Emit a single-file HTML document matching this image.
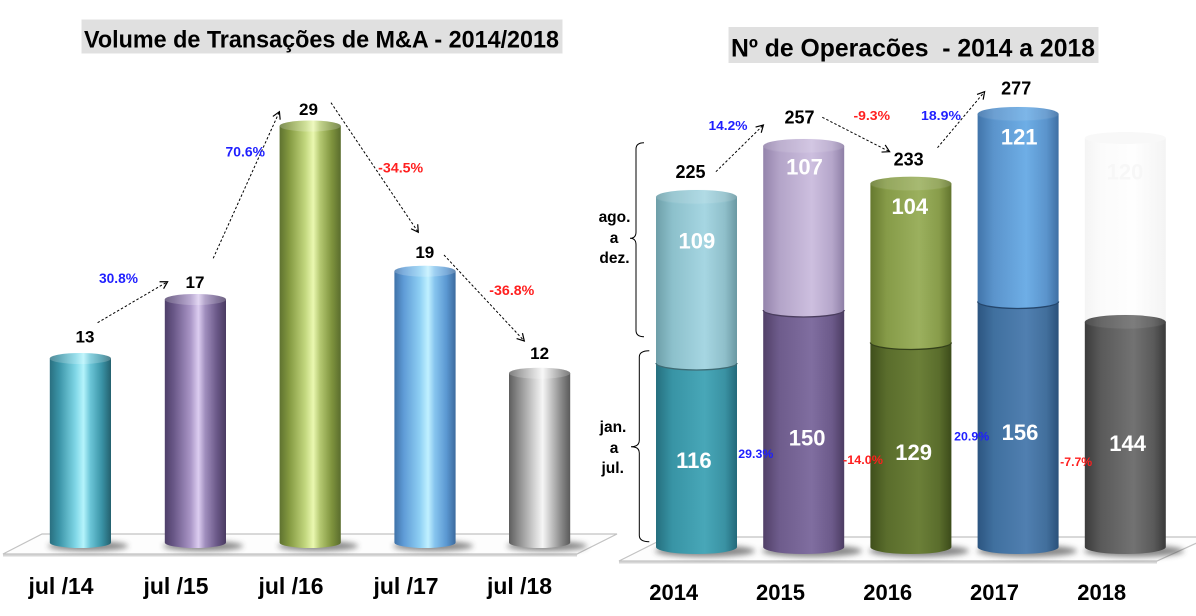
<!DOCTYPE html>
<html><head><meta charset="utf-8"><style>
html,body{margin:0;padding:0;background:#fff;}
svg{display:block;}
text{font-family:"Liberation Sans",sans-serif;font-weight:bold;}
</style></head><body>
<svg width="1196" height="616" viewBox="0 0 1196 616" xmlns="http://www.w3.org/2000/svg">
<defs>
<filter id="blur" x="-50%" y="-100%" width="200%" height="300%"><feGaussianBlur stdDeviation="3"/></filter>
<marker id="ah" markerWidth="10" markerHeight="10" refX="8" refY="5" orient="auto" markerUnits="userSpaceOnUse"><path d="M1,1 L8,5 L1,9" fill="none" stroke="#000" stroke-width="1.2"/></marker>
<linearGradient id="l1"><stop offset="0" stop-color="#2a7080"/><stop offset=".15" stop-color="#3a93a6"/><stop offset=".42" stop-color="#7fd6e6"/><stop offset=".55" stop-color="#b4f4fc"/><stop offset=".66" stop-color="#6cc6d8"/><stop offset=".85" stop-color="#3a93a6"/><stop offset="1" stop-color="#24606e"/></linearGradient>
<linearGradient id="l2"><stop offset="0" stop-color="#4e3f69"/><stop offset=".15" stop-color="#6a5888"/><stop offset=".42" stop-color="#a995c6"/><stop offset=".55" stop-color="#dccdf0"/><stop offset=".66" stop-color="#a08ebd"/><stop offset=".85" stop-color="#6a5888"/><stop offset="1" stop-color="#4a3b62"/></linearGradient>
<linearGradient id="l3"><stop offset="0" stop-color="#5e7230"/><stop offset=".15" stop-color="#82973f"/><stop offset=".42" stop-color="#c2d77e"/><stop offset=".55" stop-color="#eaf8b0"/><stop offset=".66" stop-color="#b5c972"/><stop offset=".85" stop-color="#7f943e"/><stop offset="1" stop-color="#5a6c2d"/></linearGradient>
<linearGradient id="l4"><stop offset="0" stop-color="#3f72a8"/><stop offset=".15" stop-color="#5e9bd6"/><stop offset=".42" stop-color="#8fd0f4"/><stop offset=".55" stop-color="#c0f0ff"/><stop offset=".66" stop-color="#86c4ee"/><stop offset=".85" stop-color="#5b98d2"/><stop offset="1" stop-color="#3c6b9e"/></linearGradient>
<linearGradient id="l5"><stop offset="0" stop-color="#5e5e5e"/><stop offset=".15" stop-color="#8a8a8a"/><stop offset=".42" stop-color="#d4d4d4"/><stop offset=".55" stop-color="#f6f6f6"/><stop offset=".66" stop-color="#cfcfcf"/><stop offset=".85" stop-color="#8a8a8a"/><stop offset="1" stop-color="#5a5a5a"/></linearGradient>
<linearGradient id="a1"><stop offset="0" stop-color="#6d9ea8"/><stop offset=".2" stop-color="#8cc0cb"/><stop offset=".6" stop-color="#a6d6e2"/><stop offset=".85" stop-color="#8fbfca"/><stop offset="1" stop-color="#6a98a2"/></linearGradient>
<linearGradient id="b1"><stop offset="0" stop-color="#256f7e"/><stop offset=".2" stop-color="#3894a5"/><stop offset=".6" stop-color="#48a7b8"/><stop offset=".85" stop-color="#3a92a3"/><stop offset="1" stop-color="#23697a"/></linearGradient>
<linearGradient id="a2"><stop offset="0" stop-color="#9484ab"/><stop offset=".2" stop-color="#b3a4c8"/><stop offset=".6" stop-color="#cdbfdf"/><stop offset=".85" stop-color="#b5a6ca"/><stop offset="1" stop-color="#8e7fa6"/></linearGradient>
<linearGradient id="b2"><stop offset="0" stop-color="#514068"/><stop offset=".2" stop-color="#6e5c8c"/><stop offset=".6" stop-color="#806ea0"/><stop offset=".85" stop-color="#6c5a8a"/><stop offset="1" stop-color="#4c3c62"/></linearGradient>
<linearGradient id="a3"><stop offset="0" stop-color="#66792f"/><stop offset=".2" stop-color="#869b48"/><stop offset=".6" stop-color="#9bb05e"/><stop offset=".85" stop-color="#889c4a"/><stop offset="1" stop-color="#62742e"/></linearGradient>
<linearGradient id="b3"><stop offset="0" stop-color="#3f4f1b"/><stop offset=".2" stop-color="#5a6d2c"/><stop offset=".6" stop-color="#6b7f38"/><stop offset=".85" stop-color="#5a6d2c"/><stop offset="1" stop-color="#3c4b1a"/></linearGradient>
<linearGradient id="a4"><stop offset="0" stop-color="#4174aa"/><stop offset=".2" stop-color="#5b94cc"/><stop offset=".6" stop-color="#6eaee6"/><stop offset=".85" stop-color="#5b94cc"/><stop offset="1" stop-color="#3e6fa3"/></linearGradient>
<linearGradient id="b4"><stop offset="0" stop-color="#2c5580"/><stop offset=".2" stop-color="#40709f"/><stop offset=".6" stop-color="#507fb0"/><stop offset=".85" stop-color="#426f9c"/><stop offset="1" stop-color="#2a507a"/></linearGradient>
<linearGradient id="b5"><stop offset="0" stop-color="#3c3c3c"/><stop offset=".2" stop-color="#5a5a5a"/><stop offset=".6" stop-color="#727272"/><stop offset=".85" stop-color="#5a5a5a"/><stop offset="1" stop-color="#3a3a3a"/></linearGradient>
<linearGradient id="gh"><stop offset="0" stop-color="#f4f4f4"/><stop offset=".2" stop-color="#fbfbfb"/><stop offset=".6" stop-color="#fefefe"/><stop offset="1" stop-color="#f4f4f4"/></linearGradient>
</defs>

<!-- ================= LEFT CHART ================= -->
<rect x="81.5" y="19.5" width="481" height="34" fill="#e0e0e0"/>
<text x="84" y="47.5" font-size="24.5" textLength="475" lengthAdjust="spacingAndGlyphs" fill="#000">Volume de Transações de M&amp;A - 2014/2018</text>

<polygon points="3,554 42,534 617,534 577,554" fill="#fdfdfd" stroke="#c2c2c2" stroke-width="1.2"/>
<line x1="3" y1="555.5" x2="577" y2="555.5" stroke="#d6d6d6" stroke-width="2"/>

<g filter="url(#blur)" fill="#3a3a3a" opacity="0.6">
<ellipse cx="88" cy="546" rx="40" ry="5"/>
<ellipse cx="203" cy="546" rx="40" ry="5"/>
<ellipse cx="318" cy="546" rx="40" ry="5"/>
<ellipse cx="433" cy="546" rx="40" ry="5"/>
<ellipse cx="547" cy="546" rx="40" ry="5"/>
</g>

<g>
<path d="M49.8,358.5 V542.5 A30.6,5.5 0 0 0 111,542.5 V358.5 Z" fill="url(#l1)"/>
<ellipse cx="80.4" cy="358.5" rx="30.6" ry="5.5" fill="url(#l1)"/>
<ellipse cx="80.4" cy="358.5" rx="30.6" ry="5.5" fill="#fff" opacity="0.2"/>

<path d="M164.8,299.5 V542.5 A30.6,5.5 0 0 0 226,542.5 V299.5 Z" fill="url(#l2)"/>
<ellipse cx="195.4" cy="299.5" rx="30.6" ry="5.5" fill="url(#l2)"/>
<ellipse cx="195.4" cy="299.5" rx="30.6" ry="5.5" fill="#fff" opacity="0.2"/>

<path d="M279.6,126 V542.5 A30.6,5.5 0 0 0 340.8,542.5 V126 Z" fill="url(#l3)"/>
<ellipse cx="310.2" cy="126" rx="30.6" ry="5.5" fill="url(#l3)"/>
<ellipse cx="310.2" cy="126" rx="30.6" ry="5.5" fill="#fff" opacity="0.2"/>

<path d="M394.4,271.2 V542.5 A30.6,5.5 0 0 0 455.6,542.5 V271.2 Z" fill="url(#l4)"/>
<ellipse cx="425" cy="271.2" rx="30.6" ry="5.5" fill="url(#l4)"/>
<ellipse cx="425" cy="271.2" rx="30.6" ry="5.5" fill="#fff" opacity="0.2"/>

<path d="M509,373.2 V542.5 A30.6,5.5 0 0 0 570.2,542.5 V373.2 Z" fill="url(#l5)"/>
<ellipse cx="539.6" cy="373.2" rx="30.6" ry="5.5" fill="url(#l5)"/>
<ellipse cx="539.6" cy="373.2" rx="30.6" ry="5.5" fill="#fff" opacity="0.2"/>
</g>

<g font-size="17" fill="#000" text-anchor="middle">
<text x="85" y="342.7">13</text>
<text x="195" y="287.8">17</text>
<text x="308.5" y="115">29</text>
<text x="424.8" y="257.8">19</text>
<text x="539.6" y="358.8">12</text>
</g>

<g stroke="#000" stroke-width="1" stroke-dasharray="2.5,2" fill="none" marker-end="url(#ah)">
<line x1="97.6" y1="322.7" x2="167.6" y2="281.7"/>
<line x1="213.2" y1="258.3" x2="279.4" y2="111.7"/>
<line x1="331" y1="102.7" x2="418.3" y2="232.3"/>
<line x1="444" y1="255" x2="524.3" y2="341"/>
</g>

<g font-size="13.5">
<text x="99" y="283" fill="#1f1fff" textLength="39" lengthAdjust="spacingAndGlyphs">30.8%</text>
<text x="225.5" y="156.5" fill="#1f1fff" textLength="39.5" lengthAdjust="spacingAndGlyphs">70.6%</text>
<text x="378.2" y="172.5" fill="#ff1f1f" textLength="45" lengthAdjust="spacingAndGlyphs">-34.5%</text>
<text x="489.3" y="294.8" fill="#ff1f1f" textLength="45" lengthAdjust="spacingAndGlyphs">-36.8%</text>
</g>

<g font-size="23" fill="#000">
<text x="28.5" y="594" textLength="65" lengthAdjust="spacingAndGlyphs">jul /14</text>
<text x="143.5" y="594" textLength="65" lengthAdjust="spacingAndGlyphs">jul /15</text>
<text x="258.5" y="594" textLength="65" lengthAdjust="spacingAndGlyphs">jul /16</text>
<text x="373.5" y="594" textLength="65" lengthAdjust="spacingAndGlyphs">jul /17</text>
<text x="487" y="594" textLength="65" lengthAdjust="spacingAndGlyphs">jul /18</text>
</g>

<!-- ================= RIGHT CHART ================= -->
<rect x="728.5" y="27" width="370" height="36" fill="#e0e0e0"/>
<text x="731" y="56.7" font-size="25" textLength="364" lengthAdjust="spacingAndGlyphs" fill="#000">Nº de Operacões&#160; - 2014 a 2018</text>

<polygon points="619,561 667,537 1210,537 1157,561" fill="#fdfdfd" stroke="#c2c2c2" stroke-width="1.2"/>
<line x1="619" y1="562.5" x2="1157" y2="562.5" stroke="#d6d6d6" stroke-width="2"/>

<g filter="url(#blur)" fill="#3a3a3a" opacity="0.6">
<ellipse cx="705" cy="551" rx="50" ry="6"/>
<ellipse cx="812" cy="551" rx="50" ry="6"/>
<ellipse cx="919" cy="551" rx="50" ry="6"/>
<ellipse cx="1027" cy="551" rx="50" ry="6"/>
<ellipse cx="1134" cy="551" rx="50" ry="6"/>
</g>

<path d="M656,363 V547 A40.5,7 0 0 0 737,547 V363 Z" fill="url(#b1)"/>
<path d="M656,197 V363 A40.5,7 0 0 0 737,363 V197 Z" fill="url(#a1)"/>
<path d="M656,363 A40.5,7 0 0 0 737,363" fill="none" stroke="#3e6b74" stroke-width="1.3"/>
<ellipse cx="696.5" cy="197" rx="40.5" ry="7" fill="url(#a1)"/>
<ellipse cx="696.5" cy="197" rx="40.5" ry="7" fill="#fff" opacity="0.12" stroke="#b4dde6" stroke-width="0.8"/>

<path d="M763.2,310 V547 A40.5,7 0 0 0 844.2,547 V310 Z" fill="url(#b2)"/>
<path d="M763.2,146 V310 A40.5,7 0 0 0 844.2,310 V146 Z" fill="url(#a2)"/>
<path d="M763.2,310 A40.5,7 0 0 0 844.2,310" fill="none" stroke="#4a3d5e" stroke-width="1.3"/>
<ellipse cx="803.7" cy="146" rx="40.5" ry="7" fill="url(#a2)"/>
<ellipse cx="803.7" cy="146" rx="40.5" ry="7" fill="#fff" opacity="0.12" stroke="#d6cbe6" stroke-width="0.8"/>

<path d="M870.4,342.5 V547 A40.5,7 0 0 0 951.4,547 V342.5 Z" fill="url(#b3)"/>
<path d="M870.4,183.7 V342.5 A40.5,7 0 0 0 951.4,342.5 V183.7 Z" fill="url(#a3)"/>
<path d="M870.4,342.5 A40.5,7 0 0 0 951.4,342.5" fill="none" stroke="#34411a" stroke-width="1.3"/>
<ellipse cx="910.9" cy="183.7" rx="40.5" ry="7" fill="url(#a3)"/>
<ellipse cx="910.9" cy="183.7" rx="40.5" ry="7" fill="#fff" opacity="0.12" stroke="#b0c476" stroke-width="0.8"/>

<path d="M977.6,301.5 V547 A40.5,7 0 0 0 1058.6,547 V301.5 Z" fill="url(#b4)"/>
<path d="M977.6,114 V301.5 A40.5,7 0 0 0 1058.6,301.5 V114 Z" fill="url(#a4)"/>
<path d="M977.6,301.5 A40.5,7 0 0 0 1058.6,301.5" fill="none" stroke="#24466c" stroke-width="1.3"/>
<ellipse cx="1018.1" cy="114" rx="40.5" ry="7" fill="url(#a4)"/>
<ellipse cx="1018.1" cy="114" rx="40.5" ry="7" fill="#fff" opacity="0.1" stroke="#8cc0ea" stroke-width="0.8"/>

<path d="M1084.8,138 V322 A40.5,7 0 0 0 1165.8,322 V138 Z" fill="url(#gh)"/>
<ellipse cx="1125.3" cy="138" rx="40.5" ry="6" fill="#f8f8f8"/>
<path d="M1084.8,322 V547 A40.5,7 0 0 0 1165.8,547 V322 Z" fill="url(#b5)"/>
<ellipse cx="1125.3" cy="322" rx="40.5" ry="7" fill="url(#b5)"/>
<ellipse cx="1125.3" cy="322" rx="40.5" ry="7" fill="#fff" opacity="0.08" stroke="#7a7a7a" stroke-width="0.8"/>

<g font-size="22" fill="#fff" text-anchor="middle">
<text x="696.9" y="248.6">109</text>
<text x="804.5" y="174.6">107</text>
<text x="909.8" y="213.9">104</text>
<text x="1019.2" y="144.6">121</text>
<text x="693.9" y="467.9">116</text>
<text x="807.1" y="445.6">150</text>
<text x="913.6" y="460.2">129</text>
<text x="1020" y="440.2">156</text>
<text x="1127.6" y="451.2">144</text>
<text x="1125" y="179.6" fill="#f7f7f7">120</text>
</g>

<g font-size="18" fill="#000" text-anchor="middle">
<text x="690.5" y="178">225</text>
<text x="799.5" y="123.7">257</text>
<text x="908.6" y="165.7">233</text>
<text x="1016.2" y="94.7">277</text>
</g>

<g stroke="#000" stroke-width="1" stroke-dasharray="2.5,2" fill="none" marker-end="url(#ah)">
<line x1="715.9" y1="171.7" x2="763.4" y2="125"/>
<line x1="822.3" y1="117.3" x2="889.6" y2="151.7"/>
<line x1="937.5" y1="147.7" x2="984.6" y2="91.7"/>
</g>

<g font-size="13">
<text x="708.5" y="129.8" fill="#1f1fff" textLength="39" lengthAdjust="spacingAndGlyphs">14.2%</text>
<text x="853.5" y="119.8" fill="#ff1f1f" textLength="36.5" lengthAdjust="spacingAndGlyphs">-9.3%</text>
<text x="921" y="119.8" fill="#1f1fff" textLength="40" lengthAdjust="spacingAndGlyphs">18.9%</text>
</g>
<g font-size="12">
<text x="738.3" y="457.8" fill="#1f1fff" textLength="35" lengthAdjust="spacingAndGlyphs">29.3%</text>
<text x="843" y="463.8" fill="#ff1f1f" textLength="40" lengthAdjust="spacingAndGlyphs">-14.0%</text>
<text x="954.2" y="440.5" fill="#1f1fff" textLength="35" lengthAdjust="spacingAndGlyphs">20.9%</text>
<text x="1060.2" y="466.2" fill="#ff1f1f" textLength="32" lengthAdjust="spacingAndGlyphs">-7.7%</text>
</g>

<g fill="none" stroke="#000" stroke-width="1">
<path d="M644,142.7 Q636,142.7 636,149 L636,232 Q636,238.3 630,238.3 Q636,238.3 636,244.6 L636,330.4 Q636,336.7 644,336.7"/>
<path d="M649.3,350.7 Q639.3,350.7 639.3,357 L639.3,440.4 Q639.3,446.7 631,446.7 Q639.3,446.7 639.3,453 L639.3,535.4 Q639.3,541.7 649.3,541.7"/>
</g>
<g font-size="15.5" fill="#000" text-anchor="middle">
<text x="614.5" y="222">ago.</text>
<text x="614" y="243">a</text>
<text x="614.5" y="263">dez.</text>
<text x="613" y="432">jan.</text>
<text x="614" y="453">a</text>
<text x="612.7" y="473">jul.</text>
</g>

<g font-size="22" fill="#000" text-anchor="middle">
<text x="673.7" y="600">2014</text>
<text x="780.5" y="600">2015</text>
<text x="887.7" y="600">2016</text>
<text x="994.5" y="600">2017</text>
<text x="1101.7" y="600">2018</text>
</g>
</svg>
</body></html>
